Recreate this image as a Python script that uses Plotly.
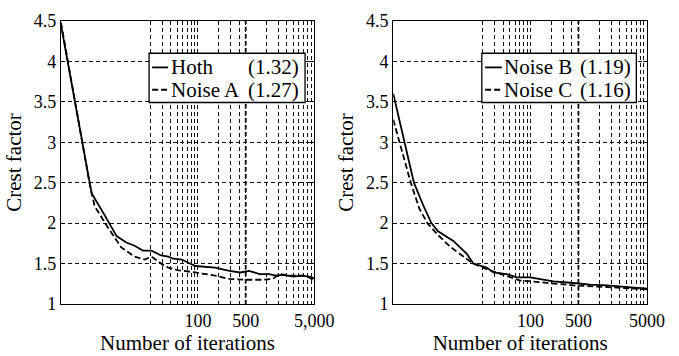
import plotly.graph_objects as go

# ---------------- data ----------------
hoth_x = [1, 2.8, 4.4, 6.5, 9, 11.9, 15.7, 21, 29, 37, 44, 58, 92, 179, 289, 420, 560, 800, 1100, 1380, 1720, 2500, 3350, 4200, 5000]
hoth_y = [4.45, 2.37, 2.09, 1.84, 1.76, 1.72, 1.66, 1.66, 1.60, 1.585, 1.56, 1.55, 1.47, 1.45, 1.41, 1.39, 1.41, 1.37, 1.37, 1.35, 1.36, 1.34, 1.35, 1.34, 1.32]

noiseA_x = [1, 2.6, 3.1, 4.9, 7.6, 11.9, 16.7, 21, 26, 32.6, 37, 50, 92, 179, 289, 464, 873, 1240, 1560, 2200, 3350, 4200, 5000]
noiseA_y = [4.48, 2.5, 2.21, 1.94, 1.70, 1.585, 1.55, 1.585, 1.53, 1.47, 1.45, 1.42, 1.39, 1.35, 1.31, 1.30, 1.30, 1.31, 1.37, 1.35, 1.35, 1.33, 1.29]

noiseB_x = [1, 2.0, 2.8, 3.6, 4.5, 7.5, 11.8, 14.7, 23, 28.8, 45, 63, 99, 135, 216, 424, 740, 1300, 2300, 3200, 5000]
noiseB_y = [3.6, 2.5, 2.2, 2.0, 1.9, 1.78, 1.62, 1.5, 1.45, 1.39, 1.37, 1.33, 1.33, 1.31, 1.28, 1.26, 1.24, 1.23, 1.21, 1.20, 1.19]

noiseC_x = [1, 1.8, 2.4, 3.15, 4.3, 6.7, 11.7, 14.7, 23, 45, 71, 135, 424, 1300, 5000]
noiseC_y = [3.28, 2.5, 2.18, 2.0, 1.87, 1.71, 1.56, 1.5, 1.43, 1.35, 1.29, 1.27, 1.23, 1.21, 1.18]

series_names = ["Hoth", "Noise A", "Noise B", "Noise C"]
legend_values = ["(1.32)", "(1.27)", "(1.19)", "(1.16)"]

grid_x = [20, 30, 40, 50, 60, 70, 80, 90, 100, 200, 300, 400, 500,
          1000, 1500, 2000, 2500, 3000, 3500, 4000, 4500, 5000]
left_labels = {100: "100", 500: "500", 5000: "5,000"}
right_labels = {100: "100", 500: "500", 5000: "5000"}
y_ticks = [1, 1.5, 2, 2.5, 3, 3.5, 4, 4.5]
y_ticktext = ["1", "1.5", "2", "2.5", "3", "3.5", "4", "4.5"]
emph_x = 500

FONT = "Liberation Serif"
W, H = 679, 356

fig = go.Figure()
solid = dict(color="black", width=1.8)
dashed = dict(color="black", width=1.8, dash="6px,3px")
fig.add_trace(go.Scatter(x=hoth_x, y=hoth_y, mode="lines", line=solid, xaxis="x", yaxis="y", showlegend=False))
fig.add_trace(go.Scatter(x=noiseA_x, y=noiseA_y, mode="lines", line=dashed, xaxis="x", yaxis="y", showlegend=False))
fig.add_trace(go.Scatter(x=noiseB_x, y=noiseB_y, mode="lines", line=solid, xaxis="x2", yaxis="y2", showlegend=False))
fig.add_trace(go.Scatter(x=noiseC_x, y=noiseC_y, mode="lines", line=dashed, xaxis="x2", yaxis="y2", showlegend=False))

def xaxis_cfg(domain, labels, anchor):
    return dict(
        type="log", range=[0, 3.699], domain=domain, anchor=anchor,
        tickvals=grid_x, ticktext=[labels.get(v, "") for v in grid_x],
        showgrid=True, gridcolor="#111", gridwidth=0.9, griddash="4px,3px",
        showline=True, linecolor="black", linewidth=1.3, mirror=True,
        ticks="", zeroline=False,
        tickfont=dict(family=FONT, size=18, color="black"),
        title=dict(text="Number of iterations", font=dict(family=FONT, size=21, color="black"), standoff=0),
    )

def yaxis_cfg(anchor):
    return dict(
        range=[1, 4.5], anchor=anchor, domain=[0, 1],
        tickvals=y_ticks, ticktext=y_ticktext,
        showgrid=True, gridcolor="#111", gridwidth=0.9, griddash="4px,3px",
        showline=True, linecolor="black", linewidth=1.3, mirror="ticks",
        ticks="inside", ticklen=4, tickcolor="black", zeroline=False,
        tickfont=dict(family=FONT, size=18, color="black"),
        title=dict(text="Crest factor", font=dict(family=FONT, size=21, color="black"), standoff=6),
    )

fig.update_layout(
    width=W, height=H,
    margin=dict(l=61, r=32, t=11, b=46),
    paper_bgcolor="white", plot_bgcolor="white",
    xaxis=xaxis_cfg([0, 0.432], left_labels, "y"),
    xaxis2=xaxis_cfg([0.567, 1], right_labels, "y2"),
    yaxis=yaxis_cfg("x"),
    yaxis2=yaxis_cfg("x2"),
    font=dict(family=FONT, color="black"),
)

shapes = []
annotations = []
# emphasised grid line at 500
for xr, yr in [("x", "y domain"), ("x2", "y2 domain")]:
    shapes.append(dict(type="line", xref=xr, yref=yr, x0=emph_x, x1=emph_x, y0=0, y1=1,
                       line=dict(color="black", width=1.8, dash="4px,3px"), layer="below"))

# legends (drawn manually)
legend_specs = [
    ("x domain", "y domain", [0, 1], 0.348, 0.964, 0.36, 0.423, 0.427, 0.948),
    ("x2 domain", "y2 domain", [2, 3], 0.349, 0.958, 0.362, 0.428, 0.428, 0.946),
]
rows_y = [0.836, 0.757]
for xr, yr, idxs, bx0, bx1, lx0, lx1, tx, vx in legend_specs:
    shapes.append(dict(type="rect", xref=xr, yref=yr, x0=bx0, x1=bx1, y0=0.712, y1=0.886,
                       line=dict(color="black", width=1.3), fillcolor="white", layer="above"))
    for k, i in enumerate(idxs):
        ln = solid if k == 0 else dashed
        shapes.append(dict(type="line", xref=xr, yref=yr, x0=lx0, x1=lx1, y0=rows_y[k], y1=rows_y[k],
                           line=dict(color="black", width=1.8, dash=ln.get("dash", "solid")), layer="above"))
        annotations.append(dict(xref=xr, yref=yr, x=tx, y=rows_y[k], text=series_names[i], showarrow=False,
                                xanchor="left", yanchor="middle", font=dict(family=FONT, size=21, color="black")))
        annotations.append(dict(xref=xr, yref=yr, x=vx, y=rows_y[k], text=legend_values[i], showarrow=False,
                                xanchor="right", yanchor="middle", font=dict(family=FONT, size=21, color="black")))

fig.update_layout(shapes=shapes, annotations=annotations)
fig.write_html("out.html")
